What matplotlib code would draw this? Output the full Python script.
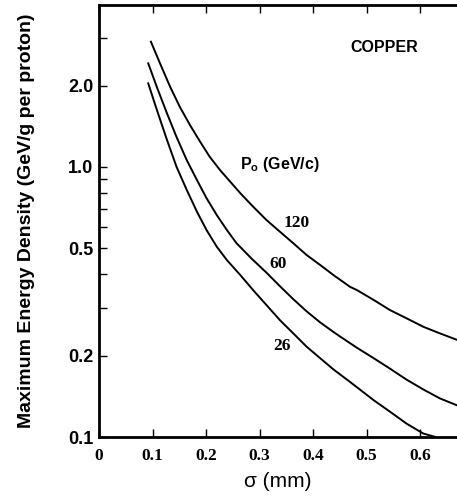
import matplotlib
matplotlib.use("Agg")
from matplotlib import pyplot as plt
from matplotlib.ticker import FixedLocator, NullFormatter

# curves: sigma (mm) vs max energy density (GeV/g per proton)
sigma_120 = [0.097, 0.114, 0.133, 0.151, 0.170, 0.189, 0.207, 0.226, 0.245, 0.264, 0.288,
             0.313, 0.338, 0.363, 0.388, 0.413, 0.438, 0.469, 0.482, 0.513, 0.544, 0.575,
             0.606, 0.637, 0.669]
dens_120 = [2.91, 2.42, 1.98, 1.67, 1.43, 1.24, 1.09, 0.975, 0.883, 0.80, 0.713,
            0.636, 0.576, 0.522, 0.472, 0.434, 0.398, 0.360, 0.350, 0.322, 0.295, 0.275,
            0.256, 0.242, 0.229]

sigma_60 = [0.092, 0.108, 0.127, 0.145, 0.164, 0.183, 0.201, 0.220, 0.239, 0.257, 0.285,
            0.313, 0.338, 0.363, 0.388, 0.413, 0.438, 0.450, 0.482, 0.513, 0.544, 0.575,
            0.606, 0.637, 0.669]
dens_60 = [2.42, 1.98, 1.58, 1.29, 1.06, 0.895, 0.766, 0.664, 0.584, 0.522, 0.458,
           0.406, 0.362, 0.324, 0.292, 0.266, 0.245, 0.236, 0.214, 0.196, 0.179, 0.163,
           0.150, 0.139, 0.131]

sigma_26 = [0.092, 0.108, 0.127, 0.145, 0.164, 0.183, 0.201, 0.220, 0.239, 0.264, 0.288,
            0.313, 0.338, 0.363, 0.388, 0.413, 0.438, 0.469, 0.513, 0.544, 0.575, 0.606,
            0.629]
dens_26 = [2.04, 1.63, 1.26, 1.00, 0.822, 0.683, 0.584, 0.507, 0.452, 0.398, 0.350,
           0.308, 0.271, 0.242, 0.216, 0.196, 0.178, 0.160, 0.137, 0.124, 0.112, 0.103,
           0.100]

x_ticks = [0, 0.1, 0.2, 0.3, 0.4, 0.5, 0.6]
x_labels = ["0", "0.1", "0.2", "0.3", "0.4", "0.5", "0.6"]
y_major = [0.1, 0.2, 0.5, 1.0, 2.0]
y_labels = ["0.1", "0.2", "0.5", "1.0", "2.0"]
y_minor = [0.3, 0.4, 0.6, 0.7, 0.8, 0.9, 3.0]

plt.rcParams["mathtext.fontset"] = "custom"
plt.rcParams["mathtext.rm"] = "Liberation Sans"
plt.rcParams["mathtext.bf"] = "Liberation Sans:bold"

fig = plt.figure(figsize=(4.57, 5.0), dpi=100)
ax = fig.add_axes([99 / 457, 63 / 500, 358 / 457, 432 / 500])

for s, d in [(sigma_120, dens_120), (sigma_60, dens_60), (sigma_26, dens_26)]:
    ax.plot(s, d, color="black", lw=1.4, solid_joinstyle="round")

ax.set_yscale("log")
ax.set_xlim(0, 0.669)
ax.set_ylim(0.1, 3.98)

ax.xaxis.set_major_locator(FixedLocator(x_ticks))
ax.set_xticklabels(x_labels, fontfamily="Liberation Serif", fontweight="bold", fontsize=12.5)
ax.yaxis.set_major_locator(FixedLocator(y_major))
ax.yaxis.set_minor_locator(FixedLocator(y_minor))
ax.yaxis.set_minor_formatter(NullFormatter())
ax.set_yticklabels(y_labels, fontfamily="Liberation Sans", fontweight="bold", fontsize=13)

ax.tick_params(axis="both", which="both", direction="in", length=6, width=1, top=True)
ax.tick_params(axis="x", pad=8)
ax.tick_params(axis="y", pad=4)

for side in ["left", "bottom", "top"]:
    ax.spines[side].set_linewidth(2)
ax.spines["right"].set_visible(False)

ax.set_ylabel("Maximum Energy Density (GeV/g per proton)", fontfamily="Liberation Sans",
              fontweight="bold", fontsize=14)
ax.yaxis.set_label_coords(-0.18, 0.5)
ax.set_xlabel("σ (mm)", fontfamily="Liberation Sans", fontsize=15, labelpad=6)

ax.text(0.533, 2.76, "COPPER", fontfamily="Liberation Sans", fontweight="bold",
        fontsize=11.5, ha="center", va="center")
ax.text(0.264, 1.02, r"P$_\mathbf{o}$ (GeV/c)", fontfamily="Liberation Sans", fontweight="bold",
        fontsize=11.5, ha="left", va="center")
ax.text(0.370, 0.620, "120", fontfamily="Liberation Serif", fontweight="bold", fontsize=12.5,
        ha="center", va="center")
ax.text(0.335, 0.437, "60", fontfamily="Liberation Serif", fontweight="bold", fontsize=12.5,
        ha="center", va="center")
ax.text(0.342, 0.217, "26", fontfamily="Liberation Serif", fontweight="bold", fontsize=12.5,
        ha="center", va="center")

fig.savefig("out.png", dpi=100)
